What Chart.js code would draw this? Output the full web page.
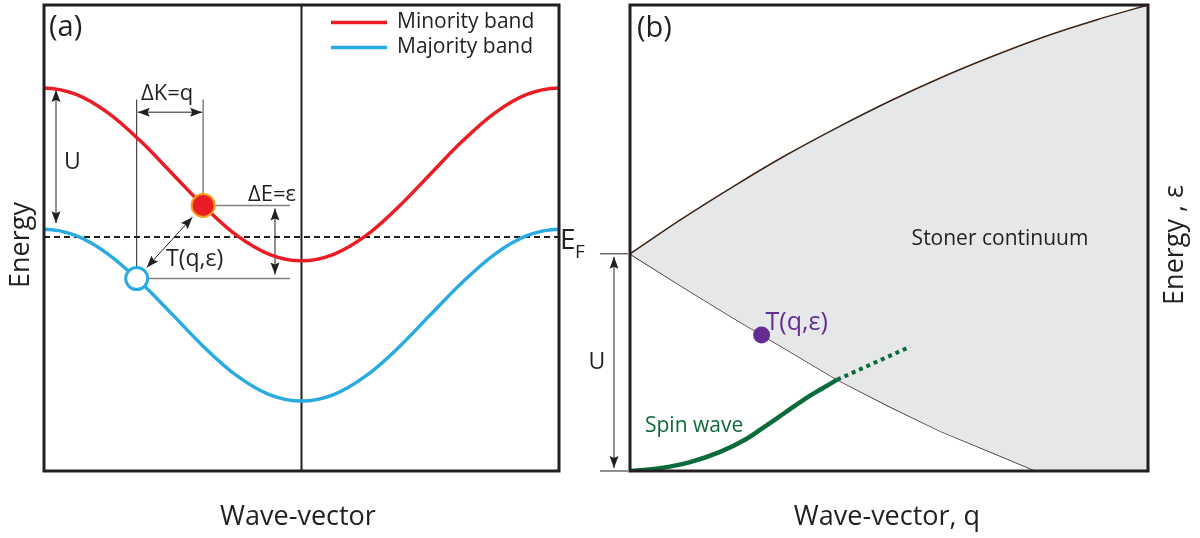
<!DOCTYPE html>
<html>
<head>
<meta charset="utf-8">
<script src="https://cdn.jsdelivr.net/npm/chart.js@4.4.0/dist/chart.umd.min.js"></script>
<style>
  html, body { margin: 0; padding: 0; background: #fff; }
  #wrap { position: relative; width: 1200px; height: 538px; }
  #bands { position: absolute; left: 0; top: 0; }
  #spectrum { position: absolute; left: 588px; top: 0; }
</style>
</head>
<body>
<div id="wrap">
  <canvas id="bands" width="588" height="538"></canvas>
  <canvas id="spectrum" width="612" height="538"></canvas>
</div>
<script>
// (a) band structure: wave-vector across the zone, energy in arbitrary units
// (one extra point past each zone edge so the periodic bands leave the frame flat)
var kGrid = [-1.125, -1, -0.875, -0.75, -0.625, -0.5, -0.375, -0.25, -0.125, 0, 0.125, 0.25, 0.375, 0.5, 0.625, 0.75, 0.875, 1, 1.125];
var minorityBand = [80.8, 82.2, 80.8, 76.8, 70.8, 63.7, 56.6, 50.5, 46.5, 45.1, 46.5, 50.5, 56.6, 63.7, 70.8, 76.8, 80.8, 82.2, 80.8];
var majorityBand = [50.5, 51.9, 50.5, 46.5, 40.5, 33.5, 26.4, 20.4, 16.4, 15.0, 16.4, 20.4, 26.4, 33.5, 40.5, 46.5, 50.5, 51.9, 50.5];
var fermiLevel = 50.2;
var electronState = [-0.382, 57.0];   // filled dot, minority band
var holeState = [-0.64, 41.3];        // open circle, majority band

// (b) excitation spectrum: q and energy both scaled 0..1
var qUpper = [0, 0.1, 0.2, 0.3, 0.4, 0.5, 0.6, 0.7, 0.8, 0.9, 1];
var eUpper = [0.466, 0.541, 0.611, 0.677, 0.737, 0.793, 0.844, 0.890, 0.932, 0.968, 1.0];
var qLower = [0, 0.1, 0.2, 0.3, 0.4, 0.5, 0.6, 0.7, 0.784, 0.9, 1];
var eLower = [0.466, 0.396, 0.328, 0.262, 0.196, 0.139, 0.085, 0.039, 0, 0, 0];
var qSpin = [0, 0.058, 0.116, 0.174, 0.222, 0.261, 0.299, 0.338, 0.371, 0.4];
var eSpin = [0, 0.006, 0.019, 0.041, 0.067, 0.096, 0.125, 0.155, 0.177, 0.196];
var qSpinTail = [0.4, 0.541];
var eSpinTail = [0.196, 0.267];
var stonerPoint = [0.254, 0.292];

var FONT = '"Open Sans", "Liberation Sans", sans-serif';
var RED = '#ec1c24', BLUE = '#29abe2', GREEN = '#0b6b3a', PURPLE = '#662d91';
var BROWN = '#3b2314', FRAME = '#231f20', GUIDE = '#808080';

function pts(xs, ys) {
    return xs.map(function (v, i) { return { x: v, y: ys[i] }; });
}

function arrowHead(ctx, x, y, ang) {
    ctx.save();
    ctx.translate(x, y);
    ctx.rotate(ang);
    ctx.beginPath();
    ctx.moveTo(0, 0);
    ctx.lineTo(-12, -4.5);
    ctx.lineTo(-10, 0);
    ctx.lineTo(-12, 4.5);
    ctx.closePath();
    ctx.fill();
    ctx.restore();
}

function doubleArrow(ctx, x1, y1, x2, y2) {
    var ang = Math.atan2(y2 - y1, x2 - x1);
    ctx.save();
    ctx.strokeStyle = '#231f20';
    ctx.fillStyle = '#231f20';
    ctx.lineWidth = 1;
    ctx.beginPath();
    ctx.moveTo(x1, y1);
    ctx.lineTo(x2, y2);
    ctx.stroke();
    arrowHead(ctx, x2, y2, ang);
    arrowHead(ctx, x1, y1, ang + Math.PI);
    ctx.restore();
}

function line(ctx, x1, y1, x2, y2, color, w) {
    ctx.save();
    ctx.strokeStyle = color;
    ctx.lineWidth = w;
    ctx.beginPath();
    ctx.moveTo(x1, y1);
    ctx.lineTo(x2, y2);
    ctx.stroke();
    ctx.restore();
}

function text(ctx, str, x, y, size, color, align, base) {
    ctx.save();
    ctx.font = size + 'px ' + FONT;
    ctx.fillStyle = color || '#231f20';
    ctx.textAlign = align || 'left';
    ctx.textBaseline = base || 'alphabetic';
    ctx.fillText(str, x, y);
    ctx.restore();
}

function vtext(ctx, str, x, y, size) {
    ctx.save();
    ctx.translate(x, y);
    ctx.rotate(-Math.PI / 2);
    text(ctx, str, 0, 0, size, '#231f20', 'center', 'middle');
    ctx.restore();
}

function frame(chart) {
    var ctx = chart.ctx, a = chart.chartArea;
    ctx.save();
    ctx.strokeStyle = FRAME;
    ctx.lineWidth = 3;
    ctx.strokeRect(a.left, a.top, a.right - a.left, a.bottom - a.top);
    ctx.restore();
}

var hiddenScale = { display: false };

var commonOpts = {
    responsive: false,
    animation: false,
    events: [],
    plugins: { legend: { display: false }, tooltip: { enabled: false } },
    elements: { point: { radius: 0 } }
};

// ---------- panel (a) ----------
var bandsDecor = {
    id: 'bandsDecor',
    beforeDatasetsDraw: function (chart) {
        var ctx = chart.ctx, a = chart.chartArea;
        var x = chart.scales.x, y = chart.scales.y;
        var hx = x.getPixelForValue(holeState[0]), hy = y.getPixelForValue(holeState[1]);
        var ex = x.getPixelForValue(electronState[0]), ey = y.getPixelForValue(electronState[1]);
        var top = y.getPixelForValue(79.7);

        // zone centre
        var x0 = x.getPixelForValue(0);
        line(ctx, x0, a.top, x0, a.bottom, FRAME, 2);

        // guides from the two states
        line(ctx, hx, top, hx, hy, '#231f20', 1);
        line(ctx, ex, top, ex, ey, GUIDE, 1.5);
        line(ctx, ex, ey, 290, ey, GUIDE, 1.5);
        line(ctx, hx, hy, 290, hy, GUIDE, 1.5);

        // ΔK, ΔE and U arrows
        var ay = y.getPixelForValue(77.0);
        doubleArrow(ctx, hx + 1, ay, ex - 1, ay);
        doubleArrow(ctx, 275, ey + 3, 275, hy - 4);
        var uTop = y.getPixelForValue(minorityBand[1]), uBot = y.getPixelForValue(majorityBand[1]);
        doubleArrow(ctx, 56, uTop + 2, 56, uBot - 6);

        // transition arrow between hole and electron
        var dx = ex - hx, dy = ey - hy, len = Math.sqrt(dx * dx + dy * dy);
        var ux = dx / len, uy = dy / len;
        doubleArrow(ctx, hx + ux * 15, hy + uy * 15, ex - ux * 16, ey - uy * 16);
    },
    afterDatasetsDraw: function (chart) {
        var ctx = chart.ctx;
        frame(chart);

        text(ctx, '(a)', 49, 36, 29);
        text(ctx, 'U', 72.5, 162, 23, null, 'center', 'middle');
        text(ctx, 'ΔK=q', 141, 100, 22);
        text(ctx, 'ΔE=ε', 296, 201, 22, null, 'right');
        text(ctx, 'T(q,ε)', 166, 266, 23);

        var yF = chart.scales.y.getPixelForValue(fermiLevel);
        text(ctx, 'E', 560, yF + 12, 28);
        text(ctx, 'F', 575, yF + 21, 19);

        vtext(ctx, 'Energy', 21, 245, 27);
        text(ctx, 'Wave-vector', 298, 517, 27, null, 'center', 'middle');

        // legend
        var ds = chart.data.datasets;
        [ds[2], ds[3]].forEach(function (d, i) {
            var ly = 22.5 + i * 25;
            line(ctx, 331, ly, 387, ly, d.borderColor, 3.5);
            text(ctx, d.label, 397, ly, 21, null, 'left', 'middle');
        });
    }
};

new Chart(document.getElementById('bands'), {
    type: 'line',
    data: {
        datasets: [
            {
                label: 'Electron', data: [{ x: electronState[0], y: electronState[1] }],
                showLine: false, pointRadius: 11.5, pointBackgroundColor: RED,
                pointBorderColor: '#f6a01a', pointBorderWidth: 2, order: 0
            },
            {
                label: 'Hole', data: [{ x: holeState[0], y: holeState[1] }],
                showLine: false, pointRadius: 11, pointBackgroundColor: '#ffffff',
                pointBorderColor: BLUE, pointBorderWidth: 3, order: 0
            },
            {
                label: 'Minority band', data: pts(kGrid, minorityBand),
                borderColor: RED, borderWidth: 3.5, tension: 0.35, order: 1
            },
            {
                label: 'Majority band', data: pts(kGrid, majorityBand),
                borderColor: BLUE, borderWidth: 3.5, tension: 0.35, order: 1
            },
            {
                label: 'Fermi level', data: [{ x: -1, y: fermiLevel }, { x: 1, y: fermiLevel }],
                borderColor: '#231f20', borderWidth: 2, borderDash: [6, 4], order: 2
            }
        ]
    },
    options: Object.assign({}, commonOpts, {
        layout: { autoPadding: false, padding: { left: 44, right: 29, top: 5, bottom: 67 } },
        scales: {
            x: Object.assign({ type: 'linear', min: -1, max: 1 }, hiddenScale),
            y: Object.assign({ type: 'linear', min: 0, max: 100 }, hiddenScale)
        }
    }),
    plugins: [bandsDecor]
});

// ---------- panel (b) ----------
var spectrumDecor = {
    id: 'spectrumDecor',
    afterDatasetsDraw: function (chart) {
        var ctx = chart.ctx, a = chart.chartArea;
        var x = chart.scales.x, y = chart.scales.y;
        frame(chart);

        // U: gap between the ground state and the continuum edge at q = 0
        var y0 = y.getPixelForValue(eUpper[0]), y1 = a.bottom;
        line(ctx, a.left - 30, y0, a.left - 2, y0, '#231f20', 1);
        line(ctx, a.left - 30, y1, a.left - 2, y1, '#231f20', 1);
        doubleArrow(ctx, a.left - 16, y0 + 3, a.left - 16, y1 - 3);
        text(ctx, 'U', a.left - 33, (y0 + y1) / 2, 23, null, 'center', 'middle');

        text(ctx, '(b)', 49, 37, 29);
        text(ctx, 'Stoner continuum', 412, 245, 21, null, 'center');
        text(ctx, 'T(q,ε)', x.getPixelForValue(stonerPoint[0]) + 4, y.getPixelForValue(stonerPoint[1]) - 5, 25, PURPLE);
        text(ctx, 'Spin wave', 57, 432, 21, GREEN);

        vtext(ctx, 'Energy , ε', 587, 245, 27);
        text(ctx, 'Wave-vector, q', 299, 517, 27, null, 'center', 'middle');
    }
};

new Chart(document.getElementById('spectrum'), {
    type: 'line',
    data: {
        datasets: [
            {
                label: 'T(q,ε)', data: [{ x: stonerPoint[0], y: stonerPoint[1] }],
                showLine: false, pointRadius: 8.5, pointBackgroundColor: PURPLE,
                pointBorderWidth: 0, order: 0
            },
            {
                label: 'Spin wave', data: pts(qSpin, eSpin),
                borderColor: GREEN, borderWidth: 4.5, tension: 0.35, order: 1
            },
            {
                label: 'Spin wave (damped)', data: pts(qSpinTail, eSpinTail),
                borderColor: GREEN, borderWidth: 4, borderDash: [4, 4], order: 1
            },
            {
                label: 'Continuum upper edge', data: pts(qUpper, eUpper),
                borderColor: BROWN, borderWidth: 1.5, cubicInterpolationMode: 'monotone',
                fill: '+1', backgroundColor: '#e6e7e8', order: 2
            },
            {
                label: 'Continuum lower edge', data: pts(qLower, eLower),
                borderColor: BROWN, borderWidth: 1.5, tension: 0, order: 2
            }
        ]
    },
    options: Object.assign({}, commonOpts, {
        layout: { autoPadding: false, padding: { left: 42, right: 52, top: 5, bottom: 67 } },
        scales: {
            x: Object.assign({ type: 'linear', min: 0, max: 1 }, hiddenScale),
            y: Object.assign({ type: 'linear', min: 0, max: 1 }, hiddenScale)
        }
    }),
    plugins: [spectrumDecor]
});
</script>
</body>
</html>
